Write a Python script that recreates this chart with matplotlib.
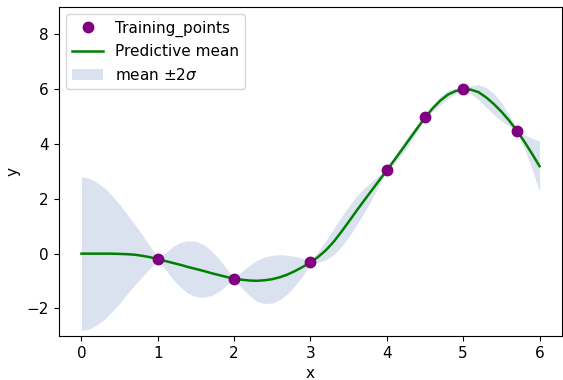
import numpy as np
import matplotlib
matplotlib.use('Agg')
import matplotlib.pyplot as plt

plt.rcParams['font.size'] = 11

# Pontos de treino
x_train = [1.0, 2.0, 3.0, 4.0, 4.5, 5.0, 5.7]
y_train = [-0.2, -0.91, -0.32, 3.04, 4.97, 6.02, 4.49]

# Grade de previsão (passo 0.1 de 0 a 6)
x_pred = [round(0.1 * i, 1) for i in range(61)]

# Média preditiva em cada ponto da grade
mean_pred = [
    0.0, 0.0, 0.0, 0.0, 0.0, -0.01, -0.02, -0.04, -0.08, -0.13,
    -0.2, -0.27, -0.34, -0.41, -0.49, -0.56, -0.63, -0.71, -0.78, -0.85,
    -0.91, -0.95, -0.98, -0.99, -0.97, -0.93, -0.86, -0.76, -0.63, -0.48,
    -0.32, -0.12, 0.12, 0.42, 0.78, 1.16, 1.55, 1.93, 2.3, 2.67,
    3.04, 3.42, 3.8, 4.19, 4.58, 4.96, 5.3, 5.58, 5.8, 5.93,
    5.99, 5.98, 5.89, 5.7, 5.46, 5.18, 4.86, 4.5, 4.09, 3.65,
    3.19,
]

# Dois desvios padrão (2*sigma) em cada ponto da grade
two_sigma = [
    2.8, 2.75, 2.6, 2.4, 2.12, 1.8, 1.45, 1.1, 0.75, 0.4,
    0.05, 0.3, 0.6, 0.82, 0.96, 1.01, 0.96, 0.82, 0.6, 0.3,
    0.05, 0.3, 0.55, 0.75, 0.85, 0.87, 0.82, 0.7, 0.53, 0.32,
    0.05, 0.2, 0.35, 0.47, 0.54, 0.56, 0.53, 0.45, 0.33, 0.18,
    0.04, 0.12, 0.18, 0.18, 0.12, 0.04, 0.12, 0.16, 0.15, 0.1,
    0.04, 0.15, 0.27, 0.36, 0.38, 0.33, 0.2, 0.05, 0.25, 0.55,
    0.92,
]

mean_pred = np.array(mean_pred)
two_sigma = np.array(two_sigma)

fig, ax = plt.subplots(figsize=(5.63, 3.8), dpi=100)

band = ax.fill_between(x_pred, mean_pred - two_sigma, mean_pred + two_sigma,
                       color='#dbe2ef', linewidth=0, label=r'mean $\pm 2\sigma$')
line, = ax.plot(x_pred, mean_pred, color='green', linewidth=1.8, label='Predictive mean')
pts, = ax.plot(x_train, y_train, 'o', color='purple', markersize=7.5, label='Training_points')

ax.set_ylim(-3, 9)
ax.set_xlabel('x')
ax.set_ylabel('y')
ax.legend(handles=[pts, line, band], loc='upper left')

plt.subplots_adjust(left=0.104, right=0.999, top=0.982, bottom=0.116)
plt.savefig('out.png')
